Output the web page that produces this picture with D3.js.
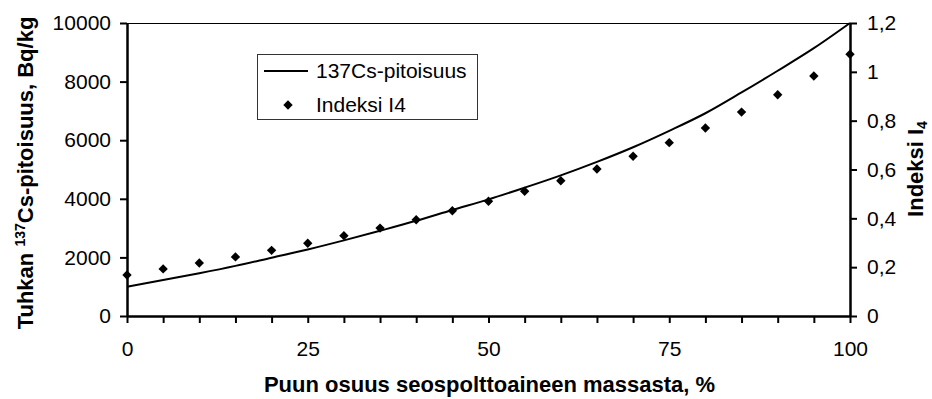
<!DOCTYPE html>
<html>
<head>
<meta charset="utf-8">
<script src="https://cdn.jsdelivr.net/npm/d3@7"></script>
<style>
  html, body { margin: 0; padding: 0; background: #fff; }
  svg { display: block; font-family: "Liberation Sans", Arial, sans-serif; }
</style>
</head>
<body>
<svg id="chart" width="932" height="399"></svg>
<script>
// Wood share in the fuel mixture, % of mass
const woodShare = [0, 5, 10, 15, 20, 25, 30, 35, 40, 45, 50, 55, 60, 65, 70, 75, 80, 85, 90, 95, 100];
// 137Cs concentration of the ash, Bq/kg (left axis)
const csAsh = [1000, 1230, 1460, 1710, 1990, 2270, 2580, 2910, 3250, 3620, 3980, 4380, 4800, 5260, 5760, 6320, 6920, 7630, 8370, 9140, 10000];
// Index I4 (right axis)
const indexI4 = [0.168, 0.193, 0.217, 0.242, 0.269, 0.298, 0.329, 0.360, 0.394, 0.431, 0.470, 0.511, 0.554, 0.602, 0.654, 0.710, 0.770, 0.835, 0.906, 0.983, 1.072];

const xTicks = [0, 5, 10, 15, 20, 25, 30, 35, 40, 45, 50, 55, 60, 65, 70, 75, 80, 85, 90, 95, 100];
const xTickLabels = [0, 25, 50, 75, 100];
const leftTicks = [0, 2000, 4000, 6000, 8000, 10000];
const rightTicks = [0, 0.2, 0.4, 0.6, 0.8, 1.0, 1.2];

const svg = d3.select("#chart");
const plot = { left: 127, right: 850, top: 23, bottom: 316 };

const x = d3.scaleLinear().domain([0, 100]).range([plot.left, plot.right]);
const yL = d3.scaleLinear().domain([0, 10000]).range([plot.bottom, plot.top]);
const yR = d3.scaleLinear().domain([0, 1.2]).range([plot.bottom, plot.top]);

const fmtComma = d => d3.format("~g")(d).replace(".", ",");

// top border of plot area
svg.append("line")
  .attr("x1", plot.left).attr("x2", plot.right)
  .attr("y1", plot.top + 0.5).attr("y2", plot.top + 0.5)
  .attr("stroke", "#000").attr("stroke-width", 1);

// axes
function styleAxis(g) {
  g.select(".domain").attr("stroke", "#000").attr("stroke-width", 2.5);
  g.selectAll(".tick line").attr("stroke", "#000").attr("stroke-width", 2);
  g.selectAll(".tick text").attr("fill", "#000").attr("font-size", "21px")
    .attr("font-family", "'Liberation Sans', Arial, sans-serif");
}

const gx = svg.append("g")
  .attr("transform", `translate(0,${plot.bottom})`)
  .call(d3.axisBottom(x).tickValues(xTicks).tickSize(7).tickSizeOuter(0)
    .tickPadding(18)
    .tickFormat(d => xTickLabels.includes(d) ? d : ""));
styleAxis(gx);

const gl = svg.append("g")
  .attr("transform", `translate(${plot.left},0)`)
  .call(d3.axisLeft(yL).tickValues(leftTicks).tickSize(7).tickSizeOuter(0).tickPadding(9)
    .tickFormat(d3.format("d")));
styleAxis(gl);

const gr = svg.append("g")
  .attr("transform", `translate(${plot.right},0)`)
  .call(d3.axisRight(yR).tickValues(rightTicks).tickSize(7).tickSizeOuter(0).tickPadding(10)
    .tickFormat(fmtComma));
styleAxis(gr);

// 137Cs curve
const line = d3.line()
  .x((d, i) => x(woodShare[i]))
  .y(d => yL(d))
  .curve(d3.curveMonotoneX);
svg.append("path")
  .datum(csAsh)
  .attr("d", line)
  .attr("fill", "none")
  .attr("stroke", "#000")
  .attr("stroke-width", 2);

// Index I4 markers (diamonds)
const diamond = d3.symbol().type(d3.symbolSquare).size(44);
svg.append("g").selectAll("path")
  .data(indexI4)
  .join("path")
  .attr("d", diamond)
  .attr("transform", (d, i) => `translate(${x(woodShare[i])},${yR(d)}) rotate(45)`)
  .attr("fill", "#000");

// axis titles
svg.append("text")
  .attr("text-anchor", "middle")
  .attr("font-size", "22px").attr("font-weight", "bold")
  .attr("x", (plot.left + plot.right) / 2 + 1).attr("y", 392)
  .text("Puun osuus seospolttoaineen massasta, %");

const lt = svg.append("text")
  .attr("text-anchor", "middle")
  .attr("font-size", "22px").attr("font-weight", "bold")
  .attr("transform", "translate(33,173) rotate(-90)");
lt.append("tspan").text("Tuhkan ");
lt.append("tspan").attr("font-size", "14px").attr("dy", "-8").text("137");
lt.append("tspan").attr("dy", "8").text("Cs-pitoisuus, Bq/kg");

const rt = svg.append("text")
  .attr("text-anchor", "middle")
  .attr("font-size", "22px").attr("font-weight", "bold")
  .attr("transform", "translate(923,169) rotate(-90)");
rt.append("tspan").text("Indeksi I");
rt.append("tspan").attr("font-size", "14px").attr("dy", "4").text("4");

// legend
const lg = svg.append("g");
lg.append("rect")
  .attr("x", 257.5).attr("y", 54.5).attr("width", 220).attr("height", 65)
  .attr("fill", "#fff").attr("stroke", "#333").attr("stroke-width", 1);
lg.append("line")
  .attr("x1", 264).attr("x2", 308).attr("y1", 71).attr("y2", 71)
  .attr("stroke", "#000").attr("stroke-width", 2);
lg.append("text").attr("x", 316).attr("y", 78).attr("font-size", "21px")
  .text("137Cs-pitoisuus");
lg.append("path")
  .attr("d", diamond)
  .attr("transform", "translate(288,105) rotate(45)")
  .attr("fill", "#000");
lg.append("text").attr("x", 316).attr("y", 112).attr("font-size", "21px")
  .text("Indeksi I4");
</script>
</body>
</html>
